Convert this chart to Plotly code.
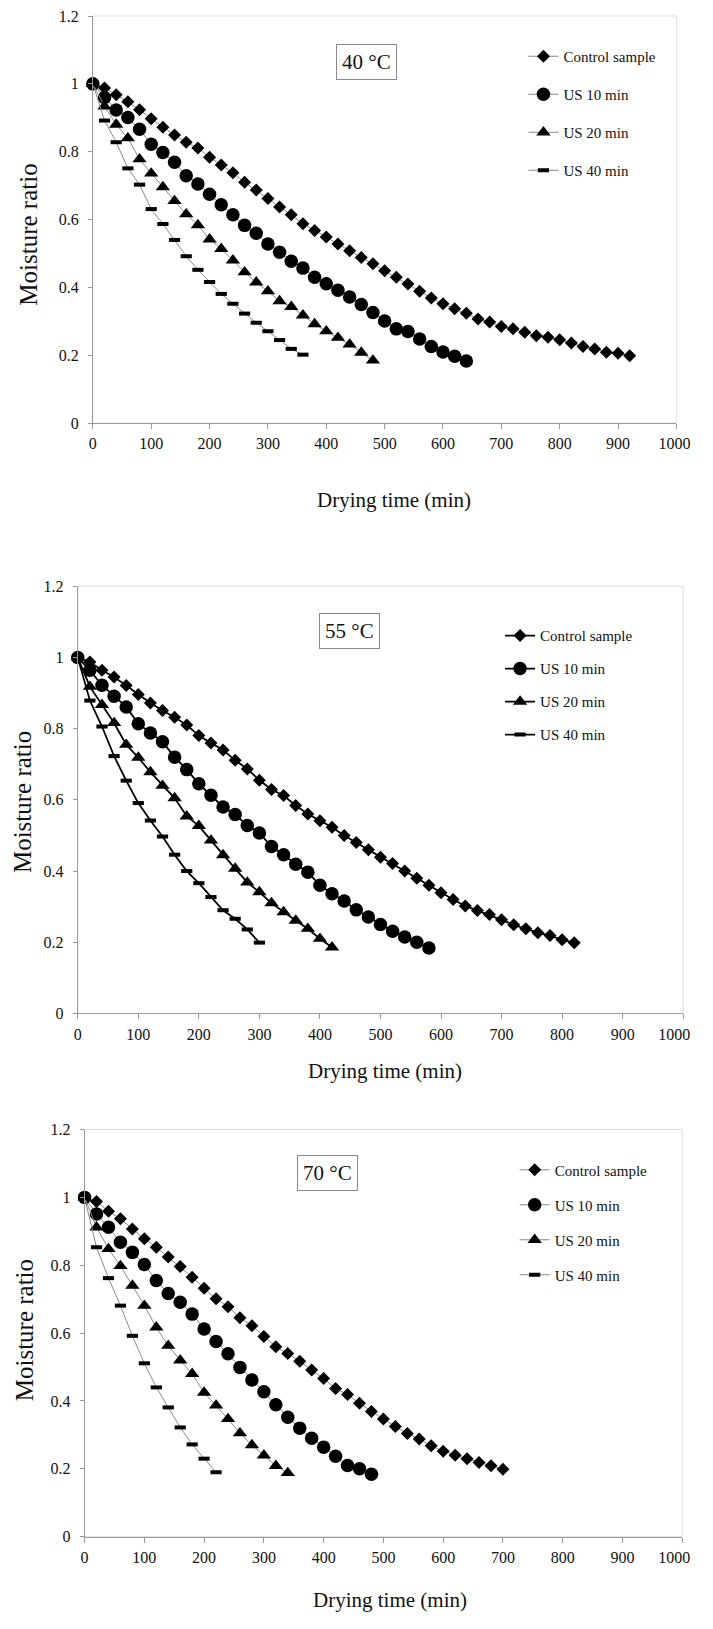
import plotly.graph_objects as go

# ---------------- data ----------------
TIME = [0, 20, 40, 60, 80, 100, 120, 140, 160, 180, 200, 220, 240, 260, 280, 300,
        320, 340, 360, 380, 400, 420, 440, 460, 480, 500, 520, 540, 560, 580, 600,
        620, 640, 660, 680, 700, 720, 740, 760, 780, 800, 820, 840, 860, 880, 900, 920]

SERIES_NAMES = ["Control sample", "US 10 min", "US 20 min", "US 40 min"]
PANEL_LABELS = ["40 °C", "55 °C", "70 °C"]
X_TICKS = [0, 100, 200, 300, 400, 500, 600, 700, 800, 900, 1000]
Y_TICKS = [0, 0.2, 0.4, 0.6, 0.8, 1, 1.2]
X_TITLE = "Drying time (min)"
Y_TITLE = "Moisture ratio"

# 40 °C
mr40_control = [1.0, 0.988, 0.968, 0.947, 0.924, 0.897, 0.872, 0.849, 0.828, 0.811, 0.784,
                0.761, 0.738, 0.710, 0.687, 0.662, 0.637, 0.614, 0.588, 0.568, 0.549, 0.528,
                0.508, 0.488, 0.470, 0.449, 0.430, 0.410, 0.389, 0.369, 0.352, 0.337, 0.324,
                0.307, 0.298, 0.285, 0.278, 0.268, 0.258, 0.253, 0.246, 0.236, 0.226, 0.219,
                0.209, 0.206, 0.199]
mr40_us10 = [1.0, 0.960, 0.923, 0.901, 0.866, 0.822, 0.798, 0.769, 0.729, 0.705, 0.675,
             0.644, 0.614, 0.583, 0.560, 0.528, 0.504, 0.477, 0.457, 0.430, 0.411, 0.392,
             0.372, 0.350, 0.326, 0.301, 0.278, 0.270, 0.248, 0.226, 0.210, 0.197, 0.183]
mr40_us20 = [1.0, 0.934, 0.880, 0.840, 0.778, 0.736, 0.696, 0.655, 0.616, 0.584, 0.542,
             0.514, 0.480, 0.445, 0.415, 0.389, 0.360, 0.343, 0.318, 0.292, 0.271, 0.252,
             0.232, 0.208, 0.185]
mr40_us40 = [1.0, 0.892, 0.828, 0.751, 0.703, 0.631, 0.587, 0.540, 0.492, 0.452, 0.416,
             0.381, 0.352, 0.323, 0.296, 0.271, 0.245, 0.219, 0.202]

# 55 °C
mr55_control = [1.0, 0.987, 0.964, 0.945, 0.921, 0.896, 0.872, 0.851, 0.832, 0.810, 0.781,
                0.760, 0.740, 0.711, 0.687, 0.655, 0.629, 0.612, 0.584, 0.560, 0.541, 0.523,
                0.500, 0.480, 0.460, 0.439, 0.421, 0.400, 0.380, 0.360, 0.339, 0.320, 0.302,
                0.289, 0.278, 0.263, 0.249, 0.238, 0.227, 0.219, 0.207, 0.199]
mr55_us10 = [1.0, 0.964, 0.922, 0.891, 0.861, 0.814, 0.788, 0.763, 0.720, 0.685, 0.645,
             0.613, 0.580, 0.559, 0.528, 0.507, 0.469, 0.446, 0.419, 0.397, 0.360, 0.336,
             0.316, 0.291, 0.271, 0.250, 0.231, 0.215, 0.200, 0.184]
mr55_us20 = [1.0, 0.918, 0.867, 0.816, 0.755, 0.719, 0.678, 0.640, 0.605, 0.554, 0.527,
             0.486, 0.445, 0.407, 0.368, 0.341, 0.310, 0.285, 0.261, 0.238, 0.210, 0.186]
mr55_us40 = [1.0, 0.879, 0.806, 0.723, 0.654, 0.591, 0.542, 0.497, 0.446, 0.400, 0.366,
             0.327, 0.290, 0.266, 0.236, 0.199]

# 70 °C
mr70_control = [1.0, 0.988, 0.959, 0.937, 0.907, 0.878, 0.853, 0.824, 0.796, 0.765, 0.732,
                0.701, 0.678, 0.645, 0.622, 0.590, 0.560, 0.540, 0.517, 0.491, 0.466, 0.437,
                0.419, 0.393, 0.369, 0.347, 0.325, 0.304, 0.288, 0.268, 0.252, 0.240, 0.230,
                0.219, 0.209, 0.199]
mr70_us10 = [1.0, 0.951, 0.912, 0.868, 0.838, 0.802, 0.755, 0.717, 0.691, 0.656, 0.612,
             0.575, 0.539, 0.499, 0.462, 0.427, 0.389, 0.352, 0.320, 0.290, 0.264, 0.237,
             0.210, 0.200, 0.184]
mr70_us20 = [1.0, 0.912, 0.848, 0.798, 0.740, 0.681, 0.617, 0.563, 0.520, 0.480, 0.425,
             0.387, 0.347, 0.305, 0.270, 0.240, 0.209, 0.188]
mr70_us40 = [1.0, 0.853, 0.762, 0.681, 0.592, 0.511, 0.440, 0.381, 0.322, 0.272, 0.230, 0.190]

PANEL_DATA = [
    [mr40_control, mr40_us10, mr40_us20, mr40_us40],
    [mr55_control, mr55_us10, mr55_us20, mr55_us40],
    [mr70_control, mr70_us10, mr70_us20, mr70_us40],
]

# ---------------- layout / style ----------------
OFF = 8                    # browser body margin
W, H = 697, 1613           # figure + body margins fill the 713x1629 page exactly
Y_SHIFT, Y_SCALE = 16.0, 0.989   # measured mapping of figure rows to the photographed page
FONT = "Liberation Serif"
TICK_SIZE = 16

# plot areas in page pixels: left, right, top, bottom
AREAS = [(91, 690, 15, 423), (75.5, 697, 586, 1013), (82.5, 696, 1129, 1536)]
LINE_STYLE = [("#8a8a8a", 1), ("#000000", 1.8), ("#8a8a8a", 1)]
LABEL_BOX = [(372, 62), (354, 631), (332, 1172)]
XTITLE_POS = [(400, 500), (391, 1071), (396, 1599)]
YTITLE_POS = [(25, 235), (19, 802), (21, 1330)]
LEGEND_POS = [(573, 56, 38), (549, 635, 33), (564, 1169, 35)]  # text start x, first row centre y, row step

MARKERS = [
    dict(symbol="diamond", size=10, color="black"),
    dict(symbol="circle", size=13.5, color="black"),
    dict(symbol="triangle-up", size=12.5, color="black"),
    dict(symbol="line-ew", size=8, color="black", line=dict(width=4, color="black")),
]


def px_x(v):
    return (v - OFF) / W


def px_y(v):
    f = 1 - ((v - Y_SHIFT) / Y_SCALE) / H
    return min(1.0, max(0.0, f))


fig = go.Figure()
legend_keys = ["legend", "legend2", "legend3"]
main_ticktext = [str(v) for v in X_TICKS[:-1]] + [""]

for p in range(3):
    l, r, t, b = AREAS[p]
    xa = "xaxis" if p == 0 else f"xaxis{p + 1}"
    ya = "yaxis" if p == 0 else f"yaxis{p + 1}"
    xr = "x" if p == 0 else f"x{p + 1}"
    yr = "y" if p == 0 else f"y{p + 1}"
    xo_key, xo_ref = f"xaxis{p + 4}", f"x{p + 4}"   # overlay axis carrying the last tick label
    lc, lw = LINE_STYLE[p]
    for s, vals in enumerate(PANEL_DATA[p]):
        fig.add_trace(go.Scatter(
            x=TIME[:len(vals)], y=vals, mode="lines+markers",
            name=SERIES_NAMES[s],
            line=dict(color=lc, width=lw),
            marker=MARKERS[s],
            xaxis=xr, yaxis=yr, cliponaxis=False,
            legend=legend_keys[p], legendgroup=f"p{p}s{s}",
        ))
    # empty trace so the overlay axis is drawn
    fig.add_trace(go.Scatter(x=[None], y=[None], xaxis=xo_ref, yaxis=yr,
                             showlegend=False, hoverinfo="skip"))

    axis_common = dict(
        showline=True, linecolor="#9a9a9a", linewidth=1,
        ticks="outside", tickcolor="#9a9a9a", tickwidth=1,
        showgrid=False, zeroline=False,
        tickfont=dict(family=FONT, size=TICK_SIZE, color="#111"),
    )
    # keep the last label inside the page so nothing overflows the page width
    last_right = r + TICK_SIZE  # label half-width is about one font size for "1000"
    shift = min(0, 704 - last_right)
    fig.update_layout(**{
        xa: dict(domain=[px_x(l), px_x(r)], anchor=yr, range=[0, 1000],
                 tickmode="array", tickvals=X_TICKS, ticktext=main_ticktext, ticklen=5,
                 ticklabelstandoff=1, **axis_common),
        xo_key: dict(overlaying=xr, anchor=yr, range=[0, 1000], side="bottom",
                     tickmode="array", tickvals=[X_TICKS[-1]], ticktext=[str(X_TICKS[-1])],
                     ticks="outside", ticklen=5, tickcolor="rgba(0,0,0,0)",
                     showline=False, showgrid=False, zeroline=False,
                     ticklabelstandoff=1, ticklabelshift=shift,
                     tickfont=dict(family=FONT, size=TICK_SIZE, color="#111")),
        ya: dict(domain=[px_y(b), px_y(t)], anchor=xr, range=[0, 1.2],
                 tickmode="array", tickvals=Y_TICKS, ticklen=4,
                 ticklabelstandoff=6, ticklabeloverflow="allow", **axis_common),
    })

    # light plot-area border (top/right)
    fig.add_shape(type="rect", xref=f"{xr} domain", yref=f"{yr} domain",
                  x0=0, x1=1, y0=0, y1=1, line=dict(color="#dedede", width=1),
                  layer="below")

    # panel temperature label
    cx, cy = LABEL_BOX[p]
    fig.add_annotation(text=PANEL_LABELS[p], xref="paper", yref="paper",
                       x=px_x(cx), y=px_y(cy), xanchor="center", yanchor="middle",
                       showarrow=False, font=dict(family=FONT, size=21, color="#111"),
                       bordercolor="#8a8a8a", borderwidth=1, borderpad=5,
                       bgcolor="white")
    # axis titles
    tx, ty = XTITLE_POS[p]
    fig.add_annotation(text=X_TITLE, xref="paper", yref="paper", x=px_x(tx), y=px_y(ty),
                       xanchor="center", yanchor="middle", showarrow=False,
                       font=dict(family=FONT, size=21, color="#111"))
    tx, ty = YTITLE_POS[p]
    fig.add_annotation(text=Y_TITLE, xref="paper", yref="paper", x=px_x(tx), y=px_y(ty),
                       xanchor="center", yanchor="middle", showarrow=False, textangle=-90,
                       font=dict(family=FONT, size=25, color="#111"))

    lx, ly, step = LEGEND_POS[p]
    item_h = 22.5
    fig.update_layout(**{legend_keys[p]: dict(
        x=px_x(lx - 40), y=px_y(ly - 16), xanchor="left", yanchor="top",
        font=dict(family=FONT, size=15, color="#111"),
        bgcolor="rgba(0,0,0,0)", borderwidth=0,
        tracegroupgap=step - item_h, traceorder="grouped",
    )})

fig.update_layout(
    width=W, height=H, margin=dict(l=0, r=0, t=0, b=0),
    paper_bgcolor="white", plot_bgcolor="white", showlegend=True,
)

fig.write_html("out.html")
